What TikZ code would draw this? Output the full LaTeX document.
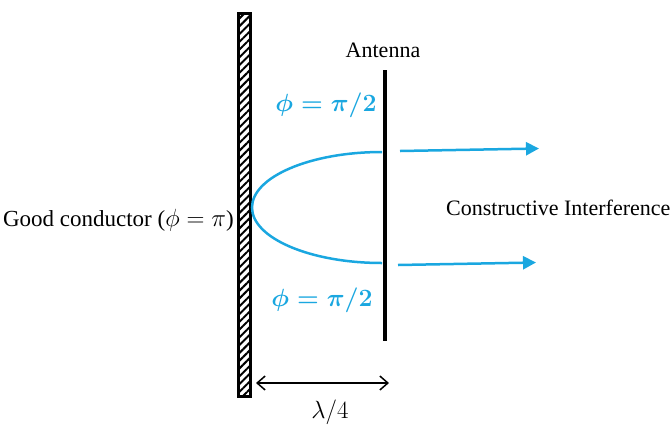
\documentclass[tikz,border=0pt]{standalone}
\usepackage{amsmath}
\usepackage{fontspec}
\setmainfont{Liberation Serif}
\usetikzlibrary{arrows.meta,patterns.meta}
\definecolor{waveBlue}{HTML}{1AA7E0}
\tikzset{
  x=1pt, y=-1pt,
  lbl/.style  ={font=\fontsize{22}{25}\selectfont, inner sep=0pt},
  phase/.style={font=\fontsize{25}{28}\selectfont\boldmath, text=waveBlue, inner sep=0pt},
  wall/.style ={draw, line width=3pt, fill=white,
                pattern={Lines[angle=45,distance=5.5pt,line width=2pt]},
                minimum width=12pt, minimum height=383pt, inner sep=0pt},
  antenna/.style={line width=3.5pt},
  wave/.style ={draw=waveBlue, line width=2.5pt},
  warr/.style ={waveBlue, line width=2.5pt, -{Triangle[length=13pt,width=13pt]}},
  darr/.style ={line width=1.5pt, {Straight Barb[length=8pt,width=14pt]}-{Straight Barb[length=8pt,width=14pt]}},
}
\begin{document}
\begin{tikzpicture}
  \useasboundingbox (0,0) rectangle (672,429);
  \node[wall] (wall) at (244,204.5) {};
  \coordinate (antTop) at (385,70);
  \coordinate (antBot) at (385,341);
  \draw[antenna] (antTop) -- (antBot);
  \node[lbl] (ant) at (383,50) {Antenna};

  % reflected wave between wall and antenna
  \coordinate (wTop) at (382,152);
  \coordinate (wTip) at (252,207.5);
  \coordinate (wBot) at (382,263);
  \draw[wave] (wTop) .. controls (310,152) and (252,177) .. (wTip)
              .. controls (252,238) and (310,263) .. (wBot);

  \node[phase] (phTop) at (326,105) {$\phi=\pi/2$};
  \node[phase] (phBot) at (322,300) {$\phi=\pi/2$};

  \coordinate (a1s) at (400,151); \coordinate (a1e) at (539,148.5);
  \coordinate (a2s) at (398,265); \coordinate (a2e) at (536,262.5);
  \draw[warr] (a1s) -- (a1e);
  \draw[warr] (a2s) -- (a2e);

  \node[lbl, anchor=west] (ci) at (446,208) {Constructive Interference};
  \node[lbl, anchor=east, font=\fontsize{23}{26}\selectfont] (gc) at (234,220) {Good conductor ($\phi=\pi$)};

  \coordinate (d1) at (256,383); \coordinate (d2) at (389,383);
  \draw[darr] (d1) -- (d2);
  \node[lbl, font=\fontsize{27}{30}\selectfont] (dist) at (330,412) {$\lambda/4$};
\end{tikzpicture}
\end{document}
